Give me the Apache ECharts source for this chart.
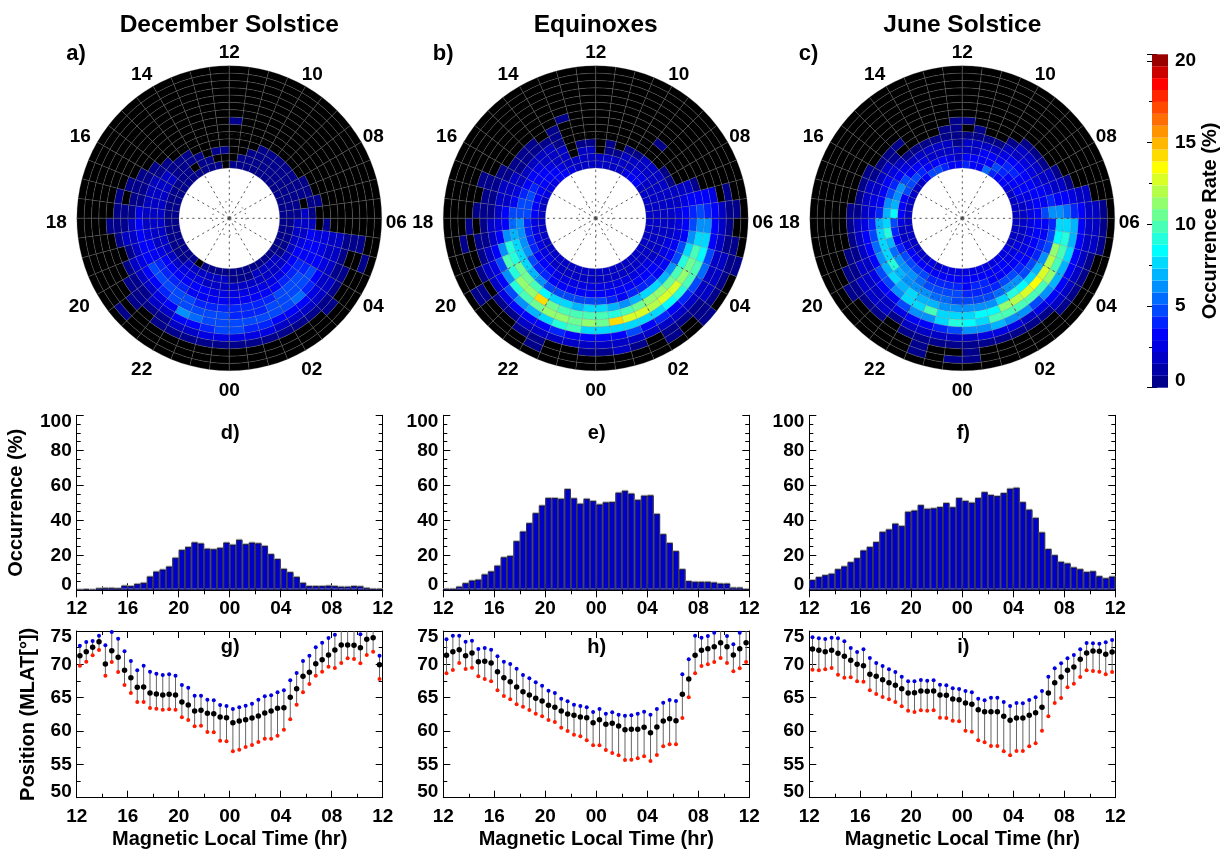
<!DOCTYPE html>
<html><head><meta charset="utf-8">
<style>html,body{margin:0;padding:0;background:#fff}#c{width:1225px;height:851px}</style>
<script src="https://cdn.jsdelivr.net/npm/echarts@6/dist/echarts.min.js"></script>
</head><body><div id="c"></div>
<script>
const seasonTitles = ['December Solstice','Equinoxes','June Solstice'];
const polarTags = ['a)','b)','c)'];
const histTags = ['d)','e)','f)'];
const posTags = ['g)','h)','i)'];
const mltTicks = [12,14,16,18,20,22,0,2,4,6,8,10];
const mltLabelDx = [0,-11.4,-17,-20.5,-18,-11.4,0,6.2,12,14.5,12,6.8];
const mltLabelDy = [-13.5,-11,-4.8,4,12.7,19,19.5,19,12.7,4,-4.8,-11];

// Occurrence rate (%) per half-hour MLT bin from 12 MLT going through 18, 00, 06; each list runs from the innermost ring outward. 0 = none (black).
const rateDec = [
[0,0,.5],[.5,0,.5],[.5,.5],[.5,.5,.5],[.5,0,.5,.5],[.5,.5,.5,.5],[.5,.5,.5,.5,.5],[.5,.5,1.5,1.5,.5,.5],
[.5,.5,1.5,1.5,1.5,.5,.5],[.5,.5,1.5,1.5,1.5,.5,.5,.5],[.5,.5,1.5,2,1.5,.5,.5,0,.5],[.5,.5,1.5,2,2,2.5,.5,.5,.5],
[.5,.5,1.5,2,2,3,2,.5,.5,.5],[.5,.5,1.5,2,2.5,3,2,1.5,.5],[.5,.5,1.5,2,3,3,2,.5,0],[.5,.5,2,2.5,3.5,3.5,2.5,1.5,.5],
[.5,.5,2,3,4,4.5,3,2,.5,.5],[.5,.5,2,3,4,4.5,3.5,2,.5,.5,.5,0,.5],[.5,1.5,2.5,3.5,4,5,4,2.5,1.5,.5],[0,1.5,2.5,3,4,5,5,3,2,.5,.5],
[.5,1.5,2.5,3,3.5,4.5,5,6,3,2,.5],[.5,1.5,2,3,3.5,4,4.5,5.5,3.5,2,.5],[.5,1.5,2,2.5,3.5,4,4.5,5,4,2.5,.5],[.5,1.5,2,2.5,3.5,4,4.5,5,4.5,2.5,.5],
[.5,.5,2,2.5,3.5,4,4,5,4.5,2.5,.5],[.5,.5,2,2.5,3.5,4,4,5,4,2.5,.5],[.5,.5,2,2.5,3,4,4,5,4,2.5,.5],[.5,1.5,2,2.5,3.5,4,4.5,5,3.5,2,.5],
[.5,1.5,2,2.5,3.5,4.5,4.5,5,3,1.5,.5],[.5,1.5,2,2.5,4,4.5,5,5.5,3,1.5,.5],[.5,1.5,2,3,4,4.5,5,4,2.5,1.5,.5,.5],[.5,.5,2,3,4,4,4.5,3,2,1.5,.5],
[.5,.5,2,3,3.5,3.5,3.5,2.5,1.5,.5,.5],[.5,.5,1.5,2.5,3,3,2.5,2,1.5,.5,0,0,.5],[.5,.5,1.5,2,3,2.5,2.5,2,1.5,.5,.5,.5],[.5,.5,1.5,2,2,0,.5],
[.5,.5,.5,1.5,.5],[.5,.5,.5,0,.5,.5],[.5,.5,.5,.5,.5],[.5,.5,.5,.5,.5],[.5,.5,.5,.5],[.5,.5,.5,.5],
[.5,.5,.5,.5],[.5,.5,.5,.5],[.5,.5,.5,.5],[.5,.5,.5],[.5,.5],[.5,0,0,0,0,0,.5]];

const rateEqu = [
[2,2,1.5,.5],[2,2,1.5,.5],[2,2,0,0,0,0,0,.5],[2.5,2,1.5,1.5,.5,.5,.5],[3,2.5,2,1.5,1.5,.5],[3,3,2.5,2,1.5,.5,.5],[2.5,3,3,2.5,1.5,.5,.5],[2.5,3,3.5,3,2,.5,.5],
[2.5,3,4,3.5,2,1.5,.5,.5],[2,3,4.5,4,2.5,1.5,1.5,.5,.5,.5],[2,3,5,5,3,2,1.5,.5,.5],[2,3,4.5,5,5,3,2,.5,.5,.5],
[2,2.5,4,6,5.5,3.5,2.5,1.5,.5,0,.5],[2,2.5,4,6,7,6,3,2,.5,.5,0,.5],[2,2.5,4,6,7.5,9,6.5,3,2,.5],[2,2.5,4,6,8,9,9.5,5,2.5,1.5,.5],
[1.5,2.5,3.5,5,8,10.5,9,6.5,3,2,0,.5,.5],[1.5,2.5,3,4,7,10.5,11,9,5,2.5,.5],[1.5,2,3,4,6,9.5,11.5,10,6,3,.5],[1.5,2,2.5,3.5,5,8.5,14,10.5,7,3.5,1.5,.5],
[1.5,2,2.5,3.5,5,8,10.5,11,8,3.5,1.5,.5,.5],[1.5,2,2.5,3,5,7.5,10,11,9,4,1.5],[1.5,2,2.5,3,4.5,7,10,10.5,9.5,3.5,1.5],[1.5,2,2.5,3,4.5,7.5,10,11,8,3.5,2,.5],
[1.5,2,2.5,3,4.5,8,10,10.5,7.5,3.5,2,.5],[1.5,2,2.5,3,4,7,9,14,8,3.5,2,1.5],[1.5,2,2.5,3,3.5,6.5,9.5,12.5,8,4.5,2,.5],[1.5,2,2.5,3,4,7,10.5,12.5,8,3.5,1.5],
[1.5,2,2.5,3.5,4,8,11,12,8,4,1.5,.5,.5],[1.5,2,2.5,3,4,8,11,12.5,8.5,3.5,2,.5],[1.5,2,2.5,3,3.5,7,10.5,12.5,9,4,2,.5,.5,.5],[1.5,2,2,2.5,3.5,6.5,10,11,9.5,4.5,2,1.5,.5],
[1.5,2,2,2.5,3,5,9,10.5,9.5,5.5,2,1.5,.5],[1.5,2,2,2.5,3,4.5,8,9.5,8.5,4.5,2,1.5,.5,.5],[1.5,1.5,2,2,2.5,3,6.5,8,8,3.5,1.5,.5,.5],[1.5,1.5,2,2,2.5,3,4.5,6,6,3,1.5,.5],
[1.5,1.5,1.5,2,2.5,3,4,5,4,3,1.5,.5,.5],[1.5,1.5,1.5,2,2,2.5,3,3.5,3,2.5,0,.5],[1.5,1.5,1.5,2,2,2,1.5,.5],[2,2,2,1.5,.5],[2,2,2,1.5,.5],[3,2.5,2,1.5],
[3,2.5,2,1.5,0,0,.5],[2.5,2,1.5,.5],[2,2,1.5,.5],[2,2,.5],[2,2,.5,.5],[2,1.5]];

const rateJun = [
[3,2,1.5,.5,.5,.5,.5],[3,2.5,2,1.5,.5,.5],[4,3,2,1.5,.5],[4.5,3,2,1.5,.5],[5,3,2.5,1.5,.5],[3.5,4,3,2,.5,0,.5],[2,5,3.5,2.5,1.5,.5,.5],[2,5,5,3,2.5,1.5,.5],
[2,4.5,6.5,4,3,2,.5,.5],[2,3.5,6.5,5,3,2,1.5,.5],[2,3.5,7,6,3.5,2.5,1.5,.5],[1.5,3,8.5,7,4,2.5,1.5,.5,.5],
[1.5,2.5,5,8,7,4,2.5,1.5,.5],[1.5,2,4,9,7.5,5,3,1.5,.5],[1.5,2,3.5,7,8,5.5,3,2,.5,.5],[2,2.5,4,5.5,8,6,3.5,2,1.5,.5,.5],
[2,3,4.5,6,9,7,4.5,2.5,2,1.5,.5,.5],[2,3.5,5,6,7,7.5,4.5,3,2,1.5,.5],[2,3.5,5,6,6.5,7,6,3.5,2,1.5,.5],[2.5,3.5,4.5,5.5,6,7.5,8,4.5,2.5,.5],
[2,3,4,5,6,7,8,6,3,1.5,.5],[2.5,3,4,5,5.5,7,9.5,6.5,3,1.5,.5,.5,.5],[2.5,3,4,5,5.5,6,8,7.5,4,2,.5],[2.5,3,4,4.5,5,6,7.5,9,5,2,.5,0,.5],
[2.5,3,3.5,4,4.5,6,8,8.5,6,2,.5,.5,.5],[2.5,3,4,4,4.5,6,8.5,8,6,2.5,.5],[2.5,3,4,4,5,6.5,8.5,10,7,2.5,.5],[2.5,3,3.5,4,5.5,7.5,11,9.5,6.5,2.5,.5],
[2.5,3,3.5,4.5,6.5,9,12,9.5,6,2,.5],[2.5,3,3.5,4.5,6,8.5,12.5,9.5,5,2.5,.5],[2.5,2.5,3,4,5,8,13.5,10,6,3,1.5,.5],[2.5,2.5,3,3.5,4.5,7,13,11,7,3,2,.5],
[2,2.5,2.5,3.5,4,6,12,10,7,3.5,2,.5],[2,2,2.5,3,4,5,11,10,7.5,3.5,2,.5],[2,2,2.5,3,3.5,5,8.5,9,7,3,2,1.5,.5],[2,2,2.5,3,3.5,4,7.5,8,7,3.5,2,1.5,.5],
[2,2,2.5,3,5,6,6,5.5,4,3,2,1.5,.5],[2,2,2.5,3,3.5,4,3.5,3,2.5,2,1.5],[2,2.5,2.5,3,3,2.5,2,1.5,.5],[2,3,3,3,2.5,2,1.5,.5],[2.5,3,3.5,3,2.5,2,.5],[3,3.5,4,3.5,2.5,1.5,.5],
[3,4,4,3,2,1.5,.5],[4,5,3,2.5,1.5,.5],[5.5,3.5,3,2,.5],[3.5,3.5,3,2,.5],[3.5,3,2,1.5,.5,.5],[4,3,2,1.5,.5,0,.5]];

// Occurrence (%) per half-hour MLT bin
const occDec = [.3,.6,.3,1.1,1.3,1.3,1.1,2.6,2.4,3.6,4.2,7.8,10.6,11.8,13.5,18.5,23,24.7,27.3,26.7,23.7,23.4,24.2,27.2,26,28.8,26.3,27.2,26.8,25.3,20.6,17.8,12.2,10.3,7.6,4.2,2.4,2.4,2.4,2.6,2.4,2,2,2.4,2.2,1.3,.8,.8];
const occEqu = [.8,.8,2,4,5.5,6,9,10.7,14,18.8,19.6,28,33.5,38.3,44,48.4,52.7,52.7,52.2,57.8,52.5,49.4,52.2,51,49,50.2,50.4,55.7,56.8,55.2,51.6,54,54.2,43.6,32,27,22.3,12,5.2,4.8,4.8,4.8,4.4,3.8,3.8,1.5,1.5,.7];
const occJun = [5.8,7.5,8.6,9.4,12,13.6,16,18.3,22.7,24.7,27.5,33.3,34.7,38,36.7,44.8,45.5,48.6,46.5,46.8,47.5,49.8,47.4,52.7,51,50,52.7,56,54.4,53.8,55.5,58,58.5,50.3,46,41.3,33,23.5,20,16.2,15.3,13,12,10.4,10.8,8,6.8,7.8];

// Position (MLAT degrees) per half-hour MLT bin
const upperDec = [72.8,73.35,73.5,74.3,72.85,74.85,73.85,71.95,70.5,69.1,69.8,68.9,68.6,68.4,68.5,68.3,66.9,66.5,65.3,65.3,64.7,64.6,63.9,63.75,63.3,63.55,63.8,64.1,64.7,65.2,65.35,65.8,66.1,67.6,68.7,70.5,71.3,72.55,73.25,73.95,74.45,75.3,75.5,75.3,74.5,75.3,75.3,71.3];
const medianDec = [71.3,71.9,72.55,73.4,70.05,72.05,71.05,69.1,68,66.55,66.6,65.7,65.55,65.4,65.5,65.4,64.35,63.9,63,63.1,62.65,62.6,62.1,62,61.25,61.5,61.7,61.95,62.25,62.7,63,63.4,63.5,65.05,66.35,68.2,68.8,70.1,70.7,71.4,72.15,72.9,72.9,72.85,72.5,73.75,74,69.95];
const lowerDec = [69.8,70.4,71.35,72.15,68.3,70.35,68.85,66.9,65.7,64.35,64.35,63.45,63.35,63.2,63.25,63.2,62.05,61.65,60.7,60.8,59.85,59.8,58.55,58.45,56.95,57.2,57.6,57.9,58.35,58.85,58.85,59.3,60.2,61.75,63.95,65.8,67.05,68.3,68.9,69.65,69.45,70.2,70.9,70.8,70.15,71.4,71.9,67.8];
const upperEqu = [73.75,74.3,74.3,73.4,73.55,72.3,72.45,72.2,71.2,70.4,70.05,69.35,68.4,67.9,67.3,66.8,66.05,65.7,64.85,64.45,63.95,63.75,63.55,62.85,63.3,62.6,62.8,62.45,62.3,62.35,62.6,62.9,62.45,63.3,64.25,64.65,64.5,68.5,70.75,74.3,74,74.25,74.75,75.1,74.25,73,74.75,75.5];
const medianEqu = [71.35,71.9,72.2,71.3,71.7,70.4,70.45,70.2,68.9,68,67.4,66.6,65.9,65.4,64.9,64.5,63.85,63.55,63,62.55,62.35,62.1,62,61.25,61.7,61,61.15,60.75,60.2,60.25,60.25,60.55,59.75,60.6,61.5,61.85,61.55,65.5,67.8,71.35,72.1,72.35,72.65,73.25,72.65,71.4,72.35,73.25];
const lowerEqu = [68.65,69.15,70.2,69.3,69.5,68.2,67.8,67.45,66.1,65.25,64.75,64,63.65,63.15,62.6,62.2,61.65,61.35,60.5,60,59.45,59.2,58.6,57.85,57.85,57.15,56.7,56.35,55.65,55.7,55.9,56.2,55.5,56.4,57.7,58,58,61.95,65.05,68.65,69.75,70,70.35,70.95,70.2,68.95,69.4,70.35];
const upperJun = [74.05,73.9,73.8,74,73.9,73.45,72.45,71.85,72.25,70.95,70.2,69.75,69.25,68.85,68.15,67.45,67.45,67.65,67.55,67.6,66.95,66.85,66.4,66.3,66,65.8,64.85,64.6,65,65,64.35,63.75,64.2,64.15,64.65,65.05,66,68.15,69.4,70.15,70.9,71.4,72.25,73.2,73.15,73.1,73.3,73.65];
const medianJun = [72.3,72.1,71.9,72.1,71.65,71.2,70.6,70,69.8,68.5,68.2,67.7,67.25,66.85,66.35,65.7,65.75,66,65.95,66,65.4,65.35,64.8,64.7,64.2,64,63.2,62.9,62.9,62.9,62.2,61.6,61.95,61.95,62.35,62.75,63.55,65.7,67.25,68.1,69.1,69.6,70.75,71.7,72,71.95,71.5,71.85];
const lowerJun = [69.2,69.1,69.25,69.45,68.45,68,68.05,67.45,67.4,66.1,65.55,65.1,64.75,64.35,63.7,63.05,62.85,63.1,63.05,63.1,62,61.95,61.55,61.45,60.05,59.9,58.6,58.3,57.75,57.75,56.95,56.35,57,57,57.7,58.15,60.05,62.2,64.2,64.95,66.55,67.1,68.1,69.1,69,68.9,68.5,68.85];

const rates = [rateDec, rateEqu, rateJun];
const occs = [occDec, occEqu, occJun];
const uppers = [upperDec, upperEqu, upperJun];
const medians = [medianDec, medianEqu, medianJun];
const lowers = [lowerDec, lowerEqu, lowerJun];
const dottedCircles = [4.4, 22];

const FONT = '"Liberation Sans", Arial, sans-serif';
const panelX = [76.7, 443.3, 809.3];
const panelW = 306;
const polarCx = [229.3, 595.7, 962.3];
const polarCy = 218.3, polarR = 152.5;
const holeColat = 13.2, ringColat = 1.914, outerColat = 40;
const binHours = 0.5;
const rateMax = 20.4, rateLevels = 28;

const jetStops = [[0,[0,0,127]],[3.3,[0,0,255]],[8.4,[0,255,255]],[13.5,[255,255,0]],[18.6,[255,0,0]],[20.4,[127,0,0]]];
function jet(v){
  for(let i=1;i<jetStops.length;i++){
    const a=jetStops[i-1],b=jetStops[i];
    if(v<=b[0]){const t=(v-a[0])/(b[0]-a[0]);
      const c=a[1].map((x,j)=>Math.round(x+(b[1][j]-x)*t));
      return `rgb(${c[0]},${c[1]},${c[2]})`;}
  }
  return 'rgb(127,0,0)';
}
function rateColor(v){
  if(v<=0) return '#000';
  const step=rateMax/rateLevels;
  const l=Math.min(rateLevels-1,Math.floor(v/step));
  return jet((l+.5)*step);
}
const fmtMlt = v => String(((v%24)+24)%24).padStart(2,'0');

function cellItem(params, api){
  const h0=api.value(0), ring=api.value(1), v=api.value(2);
  const cs=params.coordSys;
  const c0=holeColat+ring*ringColat, c1=c0+ringColat;
  const pA=api.coord([c1,h0]), pB=api.coord([c1,h0+binHours]), pC=api.coord([c0,h0]);
  const rr=Math.hypot(pA[0]-cs.cx,pA[1]-cs.cy), r0=Math.hypot(pC[0]-cs.cx,pC[1]-cs.cy);
  const aA=Math.atan2(pA[1]-cs.cy,pA[0]-cs.cx), aB=Math.atan2(pB[1]-cs.cy,pB[0]-cs.cx);
  let end=aA; while(end<aB) end+=2*Math.PI;
  return {type:'sector',shape:{cx:cs.cx,cy:cs.cy,r:rr,r0:r0,startAngle:aB,endAngle:end,clockwise:true},
    style:{fill:rateColor(v),stroke:'rgba(125,125,125,0.42)',lineWidth:0.6}};
}
function spokeItem(params, api){
  const h=api.value(0);
  const a=api.coord([0,h]), b=api.coord([outerColat,h]);
  return {type:'line',shape:{x1:a[0],y1:a[1],x2:b[0],y2:b[1]},style:{stroke:'#444',lineWidth:0.9,lineDash:[2.2,3.6]}};
}
function circleItem(params, api){
  const cs=params.coordSys;
  const p=api.coord([api.value(0),12]);
  return {type:'circle',shape:{cx:cs.cx,cy:cs.cy,r:Math.hypot(p[0]-cs.cx,p[1]-cs.cy)},
    style:{fill:'none',stroke:'#333',lineWidth:0.9,lineDash:[1.2,5]}};
}
function mltLabelItem(params, api){
  const h=api.value(0);
  const p=api.coord([outerColat,h]);
  return {type:'text',style:{x:p[0]+api.value(1),y:p[1]+api.value(2),text:fmtMlt(h),align:'center',verticalAlign:'middle',
    font:'bold 19px '+FONT,fill:'#000'}};
}
function stemItem(params, api){
  const x=api.value(0);
  const a=api.coord([x,api.value(1)]), b=api.coord([x,api.value(2)]);
  return {type:'line',shape:{x1:a[0],y1:a[1],x2:b[0],y2:b[1]},style:{stroke:'#666',lineWidth:1}};
}
function bandItem(params, api){
  const cs=params.coordSys;
  const a=api.coord([0,api.value(0)]), b=api.coord([0,api.value(1)]);
  return {type:'rect',shape:{x:cs.x,y:b[1],width:cs.width,height:a[1]-b[1]},style:{fill:jet((api.value(0)+api.value(1))/2)}};
}

const tickLabel={fontFamily:FONT,fontWeight:'bold',fontSize:19,color:'#000'};
const nameLabel={fontFamily:FONT,fontWeight:'bold',fontSize:20,color:'#000'};
const line={lineStyle:{color:'#000',width:1}};

const option={animation:false,backgroundColor:'#fff',title:[],polar:[],angleAxis:[],radiusAxis:[],grid:[],xAxis:[],yAxis:[],series:[]};

function addTitle(text,x,y,size,align){
  option.title.push({text,left:x,top:y,textAlign:align||'center',textVerticalAlign:'middle',padding:0,
    textStyle:{fontFamily:FONT,fontWeight:'bold',fontSize:size,color:'#000'}});
}
function addBox(left,top,height,ymin,ymax,yint,yminor,ylab,xlab,xmargin){
  const g=option.grid.length;
  option.grid.push({left,top,width:panelW,height});
  const xc={type:'value',gridIndex:g,min:12,max:36,interval:4,axisLine:{show:true,...line},splitLine:{show:false},
    axisTick:{show:true,inside:true,length:7,...line},minorTick:{show:true,splitNumber:2,length:4,...line},minorSplitLine:{show:false}};
  option.xAxis.push({...xc,position:'bottom',
    name:xlab||'',nameLocation:'middle',nameGap:32,nameTextStyle:{...nameLabel},
    axisLabel:{...tickLabel,margin:xmargin,formatter:fmtMlt,hideOverlap:false,showMinLabel:true,showMaxLabel:true}});
  option.xAxis.push({...xc,position:'top',axisLabel:{show:false}});
  const yc={type:'value',gridIndex:g,min:ymin,max:ymax,interval:yint,axisLine:{show:true,...line},splitLine:{show:false},
    axisTick:{show:true,inside:true,length:7,...line},minorTick:{show:true,splitNumber:yminor,length:4,...line},minorSplitLine:{show:false}};
  option.yAxis.push({...yc,position:'left',
    name:ylab?ylab.text:'',nameLocation:'middle',nameGap:ylab?ylab.gap:0,nameRotate:90,nameTextStyle:{...nameLabel},
    axisLabel:{...tickLabel,margin:5,
      formatter:v=>v===ymin?`{lo|${v}}`:v===ymax?`{hi|${v}}`:String(v),
      rich:{lo:{...tickLabel,padding:[0,0,12,0]},hi:{...tickLabel,padding:[12,0,0,0]}}}});
  option.yAxis.push({...yc,position:'right',axisLabel:{show:false}});
  return {xi:option.xAxis.length-2,yi:option.yAxis.length-2};
}

seasonTitles.forEach((t,i)=>{
  addTitle(t,polarCx[i],25,24.5);
  addTitle(polarTags[i],panelX[i]-10.5,54,22,'left');
  addTitle(histTags[i],polarCx[i]+1,433,20);
  addTitle(posTags[i],polarCx[i]+1,647,20);

  option.polar.push({center:[polarCx[i],polarCy],radius:[0,polarR]});
  option.angleAxis.push({polarIndex:i,type:'value',min:12,max:36,interval:2,startAngle:90,clockwise:false,
    axisLine:{show:false},axisTick:{show:false},splitLine:{show:false},axisLabel:{show:false}});
  option.radiusAxis.push({polarIndex:i,type:'value',min:0,max:outerColat,
    axisLine:{show:false},axisTick:{show:false},axisLabel:{show:false},splitLine:{show:false}});
  const cells=[];
  rates[i].forEach((col,k)=>{
    for(let r=0;r<14;r++) cells.push([12+k*binHours,r,r<col.length?col[r]:0]);
  });
  option.series.push({type:'custom',coordinateSystem:'polar',polarIndex:i,silent:true,data:cells,renderItem:cellItem,z:2});
  option.series.push({type:'custom',coordinateSystem:'polar',polarIndex:i,silent:true,
    data:mltTicks.map(h=>[h<12?h+24:h]),renderItem:spokeItem,z:3});
  option.series.push({type:'custom',coordinateSystem:'polar',polarIndex:i,silent:true,
    data:dottedCircles.map(c=>[c]),renderItem:circleItem,z:3});
  option.series.push({type:'custom',coordinateSystem:'polar',polarIndex:i,silent:true,
    data:mltTicks.map((h,j)=>[h<12?h+24:h,mltLabelDx[j],mltLabelDy[j]]),renderItem:mltLabelItem,z:4});

  const hb=addBox(panelX[i],415.3,175,0,100,20,4,i===0?{text:'Occurrence (%)',gap:50}:null,null,9);
  option.series.push({type:'bar',xAxisIndex:hb.xi,yAxisIndex:hb.yi,barWidth:'100%',silent:true,
    data:occs[i].map((v,k)=>[12+(k+.5)*binHours,v]),
    itemStyle:{color:'#0000c8',borderColor:'#00001e',borderWidth:0.7,shadowColor:'#aaaaaa',shadowBlur:0,shadowOffsetX:0,shadowOffsetY:-1}});

  const pb=addBox(panelX[i],631,166.7,50,75,5,2,i===0?{text:'Position (MLAT[°])',gap:38}:null,'Magnetic Local Time (hr)',10);
  const xs=k=>12+(k+.5)*binHours;
  option.series.push({type:'custom',xAxisIndex:pb.xi,yAxisIndex:pb.yi,silent:true,clip:true,
    data:lowers[i].map((v,k)=>[xs(k),v,uppers[i][k]]),renderItem:stemItem,z:2});
  [[uppers[i],'#0000e0',4],[lowers[i],'#ff1a00',4],[medians[i],'#000',5.5]].forEach(([arr,color,size])=>{
    option.series.push({type:'scatter',xAxisIndex:pb.xi,yAxisIndex:pb.yi,silent:true,symbolSize:size,
      itemStyle:{color,opacity:1},data:arr.map((v,k)=>[xs(k),v]),z:3});
  });
});

// colour bar
(function(){
  const g=option.grid.length;
  option.grid.push({left:1152,top:54.3,width:16,height:333.4});
  const xi=option.xAxis.length;
  option.xAxis.push({type:'value',gridIndex:g,min:0,max:1,show:false});
  const yc={type:'value',gridIndex:g,min:0,max:rateMax,interval:5,axisLine:{show:false},splitLine:{show:false},
    axisTick:{show:true,inside:true,length:5,...line},minorTick:{show:true,splitNumber:2,length:3,...line},minorSplitLine:{show:false}};
  const yi=option.yAxis.length;
  option.yAxis.push({...yc,position:'right',name:'Occurrence Rate (%)',nameLocation:'middle',nameGap:28,nameRotate:90,
    nameTextStyle:{...nameLabel},
    axisLabel:{...tickLabel,margin:7,showMaxLabel:true,
      formatter:v=>v===0?'{lo|0}':(v%5===0?String(v):''),
      rich:{lo:{...tickLabel,padding:[0,0,14,0]}}}});
  option.yAxis.push({...yc,position:'left',axisLabel:{show:false}});
  const step=rateMax/rateLevels, bands=[];
  for(let l=0;l<rateLevels;l++) bands.push([l*step,(l+1)*step]);
  option.series.push({type:'custom',xAxisIndex:xi,yAxisIndex:yi,silent:true,data:bands,renderItem:bandItem,z:1,encode:{y:[0,1]}});
})();

const chart=echarts.init(document.getElementById('c'),null,{renderer:'canvas',width:1225,height:851});
chart.setOption(option);
</script></body></html>
